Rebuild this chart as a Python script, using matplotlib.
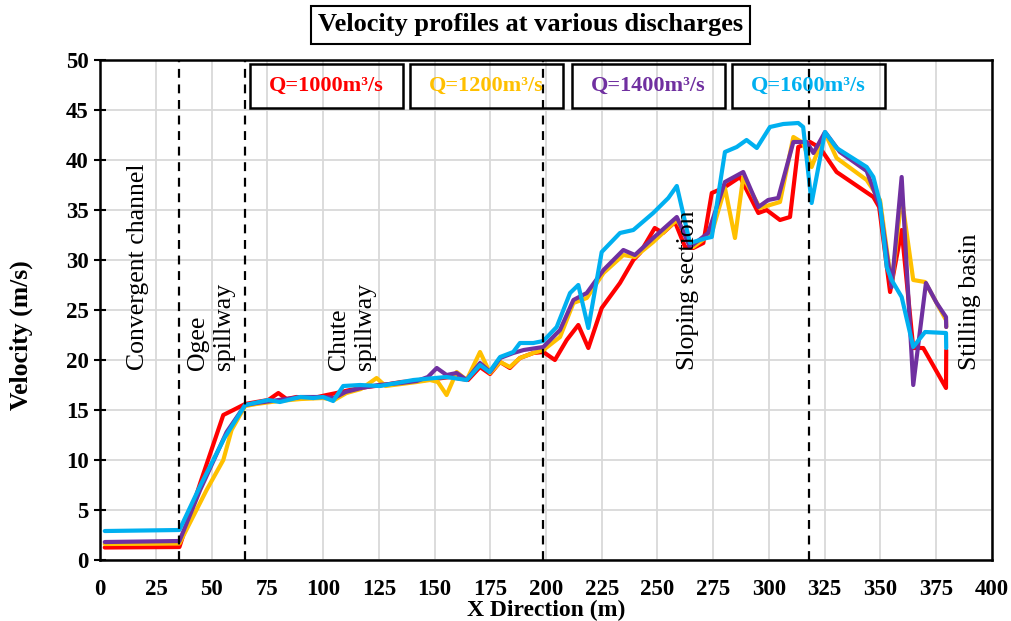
import matplotlib
matplotlib.use("Agg")
import matplotlib.pyplot as plt
from matplotlib.patches import Rectangle

plt.rcParams['font.family'] = ['Liberation Serif', 'DejaVu Serif']

# ---------------- data ----------------
labels = ["Q=1000m³/s", "Q=1200m³/s", "Q=1400m³/s", "Q=1600m³/s"]
colors = ["#FF0000", "#FFC000", "#7030A0", "#00B0F0"]

x_q1000 = [2, 35.5, 45, 55.2, 59.7, 65, 70, 75.4, 79.9, 83.6, 88.1, 95.6, 101.6, 106, 112, 119.5,
           127, 135, 142, 150, 157, 165, 170.4, 174.9, 179.4, 183.8, 188.3, 194.3, 198.8, 204,
           209.3, 214.5, 219, 225, 233.2, 239.2, 242.2, 248.8, 252.5, 257.9, 262.4, 266.1, 270.6,
           274.4, 279.6, 287.1, 295.3, 299, 305, 309.5, 313.2, 318.5, 323, 330.4, 346.9, 349.5,
           354.4, 359.6, 364.8, 369.3, 379.5, 379.6]
v_q1000 = [1.25, 1.3, 7.8, 14.5, 15.0, 15.6, 15.8, 16.0, 16.7, 16.1, 16.3, 16.2, 16.5, 16.7, 17.0, 17.3,
           17.5, 17.8, 17.9, 18.1, 18.3, 18.0, 19.3, 18.6, 19.8, 19.2, 20.2, 20.7, 20.8, 20.0,
           22.0, 23.5, 21.2, 25.2, 27.7, 30.0, 30.7, 33.2, 32.7, 33.8, 31.3, 31.2, 31.7,
           36.7, 37.2, 38.3, 34.7, 35.0, 34.0, 34.3, 41.3, 41.8, 41.2, 38.8, 36.3, 35.3,
           26.8, 33.0, 21.2, 21.2, 17.2, 21.0]

x_q1200 = [2, 35.5, 47.7, 55.2, 58.9, 65, 70, 80, 90, 100, 105, 110.5, 117, 124, 128, 135, 142, 148,
           151.5, 155.4, 159.9, 164.4, 170.4, 174.9, 179.4, 183.8, 188.3, 194.3, 198.8, 206.3, 212.3,
           218.3, 225.8, 234.7, 239.9, 248.1, 258.7, 266.1, 274.4, 280.3, 284.8, 288.5, 296, 305,
           311, 315.4, 319.2, 325.2, 330.4, 343.9, 349.9, 355.1, 359.6, 364.8, 370.1, 379.5, 379.6]
v_q1200 = [1.6, 1.65, 7.0, 10.0, 13.0, 15.4, 15.6, 15.9, 16.1, 16.2, 16.0, 16.7, 17.1, 18.2, 17.4, 17.6,
           17.8, 18.0, 17.8, 16.5, 18.8, 18.0, 20.8, 18.7, 19.8, 19.3, 20.2, 20.7, 21.0, 22.3, 25.7,
           26.2, 28.7, 30.5, 30.3, 31.8, 34.0, 31.3, 32.7, 37.2, 32.2, 38.3, 35.2, 35.8,
           42.3, 41.7, 39.3, 42.7, 40.2, 38.0, 36.0, 27.5, 36.3, 28.0, 27.8, 24.0, 23.3]

x_q1400 = [2, 35.5, 44.8, 56.7, 65, 70, 80, 90, 100, 105, 110, 117, 125, 135, 142, 147, 151, 155.4,
           159.9, 164.4, 170.4, 174.9, 179.4, 185.3, 190, 198.8, 206.3, 212.3, 218.3, 225.8, 234.7,
           239.9, 248.1, 258.7, 264.6, 272.8, 280.3, 288.5, 295.3, 299.7, 304.2, 311, 317, 320,
           325.2, 331.9, 343.9, 349.9, 355.1, 359.6, 364.8, 370.5, 375.3, 379.5, 379.6]
v_q1400 = [1.8, 1.9, 7.0, 12.8, 15.5, 15.7, 16.0, 16.3, 16.3, 16.2, 16.8, 17.2, 17.5, 17.7, 17.9, 18.3,
           19.2, 18.5, 18.7, 18.0, 19.7, 18.8, 20.2, 20.7, 21.0, 21.3, 23.0, 26.0, 26.7, 29.0, 31.0,
           30.5, 32.2, 34.3, 31.3, 32.7, 37.8, 38.8, 35.3, 36.0, 36.2, 41.8, 41.8, 40.7,
           42.8, 40.8, 38.9, 35.3, 27.3, 38.3, 17.5, 27.7, 25.7, 24.3, 23.3]

x_q1600 = [2, 35.5, 45, 55.7, 65, 75.4, 80.6, 89.6, 95.6, 100, 104.5, 109, 116.5, 125.5, 140.5, 155.3,
           164.4, 170.4, 174.6, 179.4, 185.3, 188.3, 194.3, 198.8, 204.8, 210.8, 214.5, 219, 225,
           233.2, 239.2, 248.1, 254.9, 258.7, 264.6, 272.1, 274.4, 280.3, 285.6, 290, 294.6, 300.5,
           306.5, 313.2, 315.4, 319.2, 325.2, 330.4, 343.9, 346.9, 349.9, 352.9, 355.1, 359.6, 364.8,
           370.1, 379.5, 379.6]
v_q1600 = [2.9, 3.0, 7.5, 12.2, 15.5, 16.0, 15.8, 16.3, 16.2, 16.3, 15.9, 17.4, 17.5, 17.4, 18.0, 18.3,
           18.0, 19.5, 18.8, 20.3, 20.8, 21.7, 21.7, 21.9, 23.3, 26.7, 27.5, 23.2, 30.8,
           32.7, 33.0, 34.7, 36.2, 37.4, 31.7, 32.2, 32.3, 40.8, 41.3, 42.0, 41.2, 43.3,
           43.6, 43.7, 43.3, 35.7, 42.8, 41.2, 39.3, 38.3, 35.7, 29.3, 28.0, 26.3, 21.3,
           22.8, 22.7, 21.2]

section_bounds = [35.5, 65, 198.5, 318]
section_labels = ["Convergent channel", "Ogee\nspillway", "Chute\nspillway", "Sloping section", "Stilling basin"]
section_label_x = [16.8, 49.7, 113, 263.7, 390.3]

x_ticks = list(range(0, 401, 25))
y_ticks = list(range(0, 51, 5))

# ---------------- figure ----------------
fig = plt.figure(figsize=(10.11, 6.21), dpi=100)
ax = fig.add_axes([0.0992, 0.0982, 0.8817, 0.8052])

ax.set_xlim(0, 400)
ax.set_ylim(0, 50)
ax.set_xticks(x_ticks)
ax.set_yticks(y_ticks)
ax.grid(True, color="#D9D9D9", linewidth=1.3)
ax.set_axisbelow(True)

for s in ax.spines.values():
    s.set_linewidth(1.8)
    s.set_color("black")

ax.tick_params(axis='x', length=0, pad=14, labelsize=16.5)
ax.tick_params(axis='y', direction='inout', length=9, width=1.5, pad=4, labelsize=16.5)
for lab in ax.get_xticklabels() + ax.get_yticklabels():
    lab.set_fontweight('bold')

xs = [x_q1000, x_q1200, x_q1400, x_q1600]
vs = [v_q1000, v_q1200, v_q1400, v_q1600]
for x, v, c, l in zip(xs, vs, colors, labels):
    ax.plot(x, v, color=c, linewidth=3.0, solid_joinstyle='round', solid_capstyle='round', label=l, zorder=3)

for b in section_bounds:
    ax.axvline(b, color="black", linestyle=(0, (4, 3)), linewidth=1.6, zorder=4)

for t, xp in zip(section_labels, section_label_x):
    ax.text(xp, 19, t, rotation=90, ha='center', va='bottom', multialignment='left',
            fontsize=18.5, color='black', zorder=5)

# legend-like boxes
box_x = [67.2, 139.0, 211.7, 283.5]
box_w = 68.6
for bx, l, c in zip(box_x, labels, colors):
    ax.add_patch(Rectangle((bx, 45.2), box_w, 4.4, fill=False, edgecolor='black', linewidth=1.8, zorder=5))
    ax.text(bx + box_w / 2, 47.4, l, ha='center', va='center', fontsize=16, fontweight='bold',
            color=c, zorder=6)

ax.set_xlabel("X Direction (m)", fontsize=17, fontweight='bold')
ax.xaxis.set_label_coords(0.5, -0.100)
ax.xaxis.label.set_va('center')
ax.set_ylabel("Velocity (m/s)", fontsize=18.5, fontweight='bold')
ax.yaxis.set_label_coords(-0.089, 0.45)
ax.yaxis.label.set_va('center')

fig.text(0.5247, 1 - 25 / 621, "Velocity profiles at various discharges", ha='center', va='center',
         fontsize=19, fontweight='bold',
         bbox=dict(boxstyle='square,pad=0.28', facecolor='white', edgecolor='black', linewidth=1.5))

fig.savefig("out.png", dpi=100)
